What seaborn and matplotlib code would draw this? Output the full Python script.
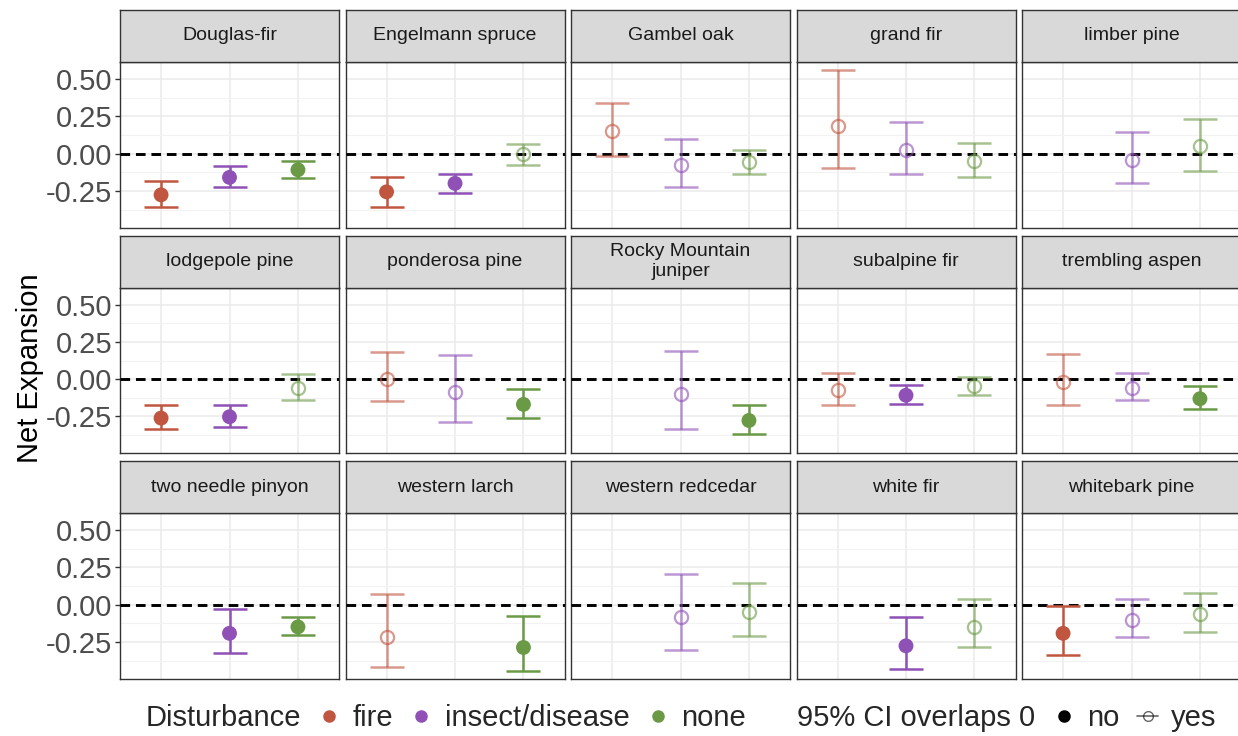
import numpy as np
import pandas as pd
import matplotlib
matplotlib.use("Agg")
import matplotlib.pyplot as plt
import seaborn as sns
from matplotlib.lines import Line2D

# ---------------- data ----------------
species = ["Douglas-fir", "Engelmann spruce", "Gambel oak", "grand fir", "limber pine",
           "lodgepole pine", "ponderosa pine", "Rocky Mountain\njuniper", "subalpine fir", "trembling aspen",
           "two needle pinyon", "western larch", "western redcedar", "white fir", "whitebark pine"]
disturbances = ["fire", "insect/disease", "none"]
nan = np.nan
fire_mean = [-0.276, -0.256, 0.150, 0.187, nan, -0.261, 0.000, nan, -0.074, -0.018, nan, -0.215, nan, nan, -0.192]
fire_lo = [-0.355, -0.355, -0.015, -0.097, nan, -0.336, -0.149, nan, -0.176, -0.173, nan, -0.421, nan, nan, -0.339]
fire_hi = [-0.185, -0.154, 0.342, 0.565, nan, -0.171, 0.182, nan, 0.045, 0.171, nan, 0.070, nan, nan, -0.007]
insect_mean = [-0.159, -0.199, -0.077, 0.024, -0.040, -0.252, -0.083, -0.099, -0.108, -0.059, -0.192, nan, -0.081, -0.276, -0.104]
insect_lo = [-0.223, -0.265, -0.223, -0.139, -0.194, -0.320, -0.284, -0.336, -0.164, -0.140, -0.321, nan, -0.303, -0.430, -0.219]
insect_hi = [-0.080, -0.137, 0.101, 0.210, 0.144, -0.171, 0.164, 0.189, -0.038, 0.045, -0.032, nan, 0.206, -0.084, 0.036]
none_mean = [-0.108, -0.004, -0.055, -0.048, 0.053, -0.061, -0.169, -0.277, -0.047, -0.131, -0.149, -0.287, -0.052, -0.147, -0.061]
none_lo = [-0.166, -0.075, -0.139, -0.154, -0.115, -0.140, -0.259, -0.367, -0.106, -0.200, -0.204, -0.448, -0.210, -0.287, -0.183]
none_hi = [-0.046, 0.068, 0.026, 0.075, 0.234, 0.038, -0.063, -0.173, 0.014, -0.047, -0.084, -0.075, 0.147, 0.036, 0.079]
yticks = [-0.25, 0.00, 0.25, 0.50]
ytick_labels = ["-0.25", "0.00", "0.25", "0.50"]
overlap_labels = ["no", "yes"]

colors = {"fire": "#C0563F", "insect/disease": "#8F51B5", "none": "#6B9A47"}

rows = []
for d, m, lo, hi in [("fire", fire_mean, fire_lo, fire_hi),
                     ("insect/disease", insect_mean, insect_lo, insect_hi),
                     ("none", none_mean, none_lo, none_hi)]:
    for s, a, b, c in zip(species, m, lo, hi):
        if not np.isnan(a):
            rows.append(dict(species=s, disturbance=d, mean=a, lo=b, hi=c))
df = pd.DataFrame(rows)
df["xpos"] = df["disturbance"].map({d: i for i, d in enumerate(disturbances)})
df["overlap"] = np.where((df["lo"] <= 0) & (df["hi"] >= 0), "yes", "no")

# ---------------- style ----------------
sns.set_theme(style="white")
plt.rcParams["font.family"] = ["Liberation Sans", "DejaVu Sans"]

W, H = 1238, 736
fig = plt.figure(figsize=(W / 100, H / 100), dpi=100)

lo_all, hi_all = df["lo"].min(), df["hi"].max()
pad = 0.05 * (hi_all - lo_all)
ylim = (lo_all - pad, hi_all + pad)

col_left = [120, 345.5, 571, 796.5, 1022]
pw = 219
border = "#333333"

for i, sp in enumerate(species):
    r, c = divmod(i, 5)
    x0 = col_left[c]
    st = 10 + 225.5 * r
    pt = 62 + 225.5 * r
    pb = 228 + 225.5 * r
    ax = fig.add_axes([x0 / W, 1 - pb / H, pw / W, (pb - pt) / H])
    sax = fig.add_axes([x0 / W, 1 - pt / H, pw / W, (pt - st) / H])
    # strip
    sax.set_facecolor("#D9D9D9")
    sax.set_xticks([]); sax.set_yticks([])
    for sp_ in sax.spines.values():
        sp_.set_color(border); sp_.set_linewidth(1.0)
    sax.text(0.5, 0.5, sp, ha="center", va="center", fontsize=14, color="#1A1A1A",
             transform=sax.transAxes, linespacing=1.3)

    sub = df[df["species"] == sp]
    ax.set_xlim(-0.6, 2.6)
    ax.set_ylim(*ylim)
    ax.set_xticks(range(len(disturbances)))
    ax.set_yticks(yticks)
    ax.set_yticks([(yticks[k] + yticks[k + 1]) / 2 for k in range(len(yticks) - 1)] + [yticks[0] - 0.125], minor=True)
    ax.grid(True, which="major", color="#EBEBEB", lw=1.1, zorder=0)
    ax.grid(True, which="minor", axis="y", color="#F2F2F2", lw=0.8, zorder=0)
    ax.set_axisbelow(True)
    ax.tick_params(axis="x", length=0, labelbottom=False)
    ax.tick_params(axis="y", which="minor", length=0)
    if c == 0:
        ax.set_yticklabels(ytick_labels)
        ax.tick_params(axis="y", which="major", length=3.5, width=1, color=border,
                       labelsize=21, labelcolor="#4D4D4D", pad=2, left=True)
    else:
        ax.tick_params(axis="y", which="major", length=0, labelleft=False)
    for sp_ in ax.spines.values():
        sp_.set_color(border); sp_.set_linewidth(1.0)

    ax.axhline(0, color="black", lw=2.1, ls=(0, (3.3, 2.0)), zorder=3)

    for _, rw in sub.iterrows():
        open_pt = rw["overlap"] == "yes"
        a = 0.6 if open_pt else 1.0
        col = colors[rw["disturbance"]]
        ax.errorbar(rw["xpos"], rw["mean"], yerr=[[rw["mean"] - rw["lo"]], [rw["hi"] - rw["mean"]]],
                    fmt="none", ecolor=col, elinewidth=1.8, capsize=12.5, capthick=1.8,
                    alpha=a, zorder=4)
        if open_pt:
            ax.plot(rw["xpos"], rw["mean"], marker="o", ms=9.5, mfc="none", mec=col,
                    mew=1.6, alpha=a, zorder=5, ls="none")
    filled = sub[sub["overlap"] == "no"]
    if len(filled):
        sns.scatterplot(data=filled, x="xpos", y="mean", hue="disturbance", palette=colors,
                        hue_order=disturbances, s=115, edgecolor="none", legend=False, ax=ax, zorder=6)
    ax.set_xlabel(""); ax.set_ylabel("")
    ax.set_xlim(-0.6, 2.6)
    ax.set_ylim(*ylim)

fig.text(30 / W, 1 - 368 / H, "Net Expansion", rotation=90, ha="center", va="center",
         fontsize=21, color="black")

blank = Line2D([], [], ls="none", marker=None)
h_d = [Line2D([], [], ls="none", marker="o", ms=8, color=colors[d]) for d in disturbances]
h_no = Line2D([], [], ls="none", marker="o", ms=8, color="black")
h_yes = Line2D([], [], ls="-", lw=1.2, marker="o", ms=7, mfc="none", mec="black", color="black", alpha=0.6)
handles = [blank] + h_d + [blank, h_no, h_yes]
labels = ["Disturbance"] + disturbances + ["95% CI overlaps 0"] + overlap_labels
fig.legend(handles, labels, ncol=7, loc="center", bbox_to_anchor=(664 / W, 1 - 718 / H),
           frameon=False, fontsize=21, handlelength=0.7, handletextpad=0.45, columnspacing=0.62,
           borderpad=0, borderaxespad=0)

fig.savefig("out.png", dpi=100)
